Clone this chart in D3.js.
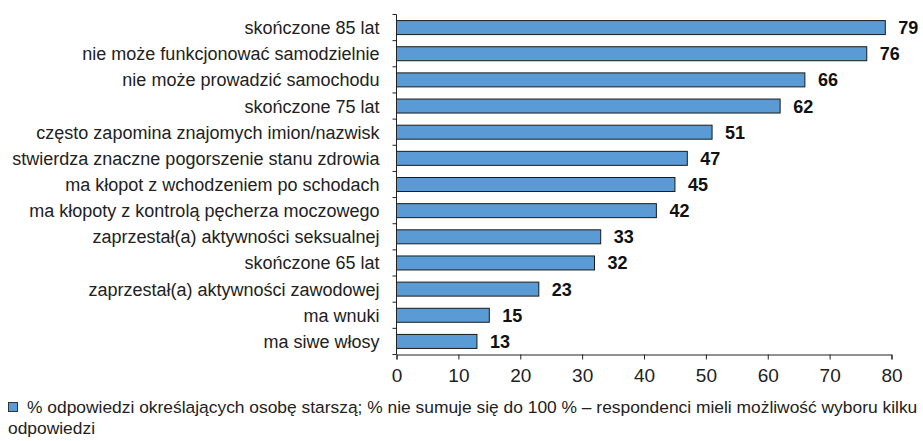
<!DOCTYPE html>
<html>
<head>
<meta charset="utf-8">
<script src="https://cdn.jsdelivr.net/npm/d3@7"></script>
<style>
  body { margin: 0; background: #fff; }
  svg { display: block; font-family: "Liberation Sans", Arial, sans-serif; }
</style>
</head>
<body>
<svg id="chart" width="923" height="441"></svg>
<script>
// dane
const categories = [
    "skończone 85 lat",
    "nie może funkcjonować samodzielnie",
    "nie może prowadzić samochodu",
    "skończone 75 lat",
    "często zapomina znajomych imion/nazwisk",
    "stwierdza znaczne pogorszenie stanu zdrowia",
    "ma kłopot z wchodzeniem po schodach",
    "ma kłopoty z kontrolą pęcherza moczowego",
    "zaprzestał(a) aktywności seksualnej",
    "skończone 65 lat",
    "zaprzestał(a) aktywności zawodowej",
    "ma wnuki",
    "ma siwe włosy"
];
const values = [79, 76, 66, 62, 51, 47, 45, 42, 33, 32, 23, 15, 13];
const xTicks = [0, 10, 20, 30, 40, 50, 60, 70, 80];
const legendLines = [
    "% odpowiedzi określających osobę starszą; % nie sumuje się do 100 % – respondenci mieli możliwość wyboru kilku",
    "odpowiedzi"
];

const svg = d3.select("#chart");
const plotLeft = 396.5, plotRight = 891.5, plotTop = 14.5, plotBottom = 354.5;
const fontSize = 18;

const x = d3.scaleLinear().domain([0, 80]).range([plotLeft, plotRight]);
const y = d3.scaleBand().domain(categories).range([plotTop, plotBottom]).paddingInner(0.465).paddingOuter(0.2325);

// słupki
svg.append("g").selectAll("rect")
    .data(values)
    .enter()
    .append("rect")
    .attr("x", x(0))
    .attr("y", (d, i) => y(categories[i]))
    .attr("width", d => x(d) - x(0))
    .attr("height", y.bandwidth())
    .attr("fill", "#5b9bd5")
    .attr("stroke", "#1a1a1a")
    .attr("stroke-width", 1);

// etykiety wartości
svg.append("g").selectAll("text")
    .data(values)
    .enter()
    .append("text")
    .attr("x", d => x(d) + 13)
    .attr("y", (d, i) => y(categories[i]) + y.bandwidth() / 2)
    .attr("dy", "0.36em")
    .attr("font-size", 18)
    .attr("font-weight", "bold")
    .attr("fill", "#111")
    .text(d => d);

// oś Y - kreski na granicach kategorii
const yAxis = svg.append("g");
yAxis.append("line")
    .attr("x1", plotLeft).attr("x2", plotLeft)
    .attr("y1", plotTop).attr("y2", plotBottom)
    .attr("stroke", "#222");
const step = (plotBottom - plotTop) / categories.length;
d3.range(categories.length + 1).forEach(i => {
    yAxis.append("line")
        .attr("x1", plotLeft - 4).attr("x2", plotLeft)
        .attr("y1", plotTop + i * step).attr("y2", plotTop + i * step)
        .attr("stroke", "#222");
});
yAxis.selectAll("text")
    .data(categories)
    .enter()
    .append("text")
    .attr("x", plotLeft - 17)
    .attr("y", d => y(d) + y.bandwidth() / 2)
    .attr("dy", "0.36em")
    .attr("text-anchor", "end")
    .attr("font-size", fontSize)
    .attr("fill", "#222")
    .text(d => d);

// oś X
const gX = svg.append("g")
    .attr("transform", `translate(0,${plotBottom})`)
    .call(d3.axisBottom(x).tickValues(xTicks).tickSize(5).tickPadding(9));
gX.select(".domain").attr("stroke", "#222");
gX.selectAll(".tick line").attr("stroke", "#222");
gX.selectAll(".tick text")
    .attr("font-size", 19)
    .attr("font-family", null)
    .attr("fill", "#222");

// legenda
svg.append("rect")
    .attr("x", 8.5).attr("y", 402.5)
    .attr("width", 9).attr("height", 9)
    .attr("fill", "#5b9bd5")
    .attr("stroke", "#333");
svg.append("g").selectAll("text")
    .data(legendLines)
    .enter()
    .append("text")
    .attr("x", (d, i) => i === 0 ? 27 : 8)
    .attr("y", (d, i) => 407 + i * 21)
    .attr("dy", "0.36em")
    .attr("font-size", 17.4)
    .attr("fill", "#222")
    .text(d => d);
</script>
</body>
</html>
